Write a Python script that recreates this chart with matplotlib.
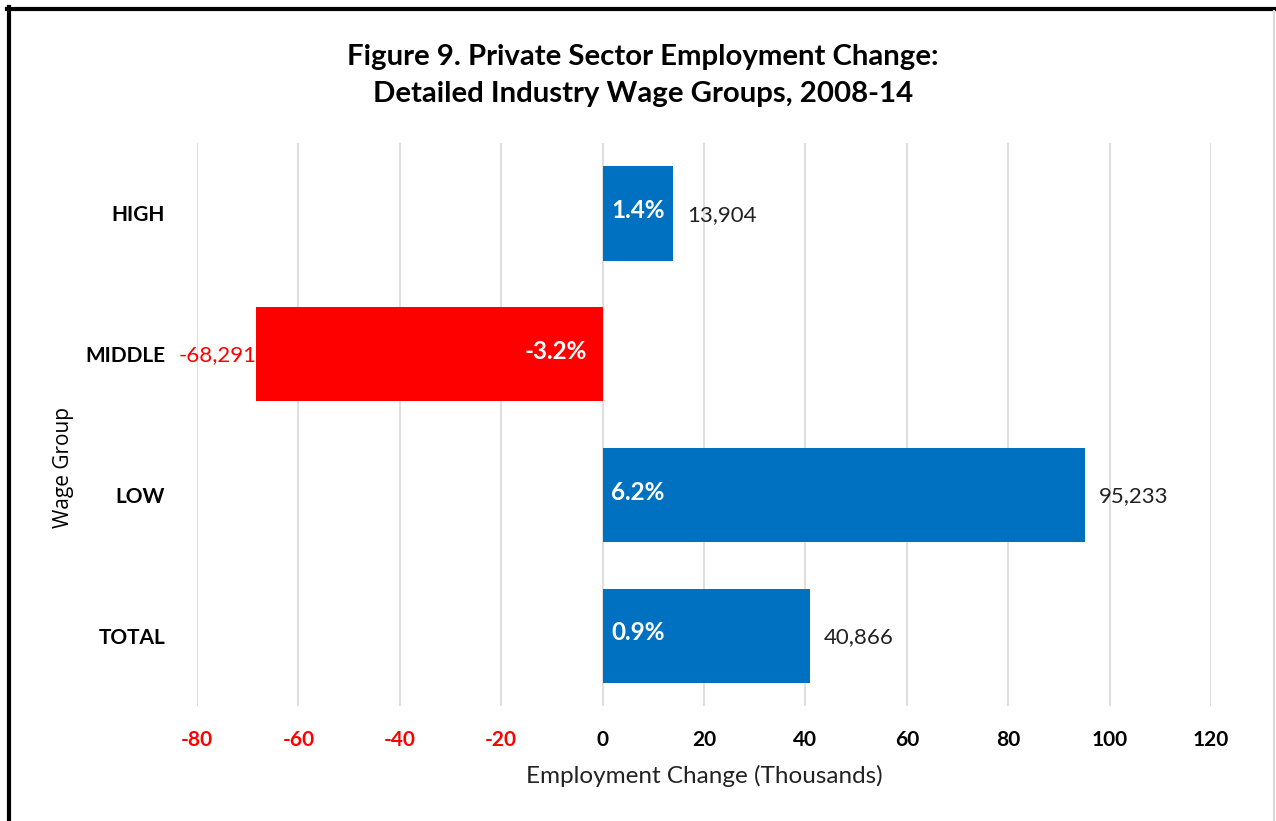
import matplotlib.pyplot as plt
from matplotlib.lines import Line2D

plt.rcParams['font.family'] = ['Lato', 'DejaVu Sans']

groups = ["HIGH", "MIDDLE", "LOW", "TOTAL"]
change = [13.904, -68.291, 95.233, 40.866]      # thousands
value_labels = ["13,904", "-68,291", "95,233", "40,866"]
pct_labels = ["1.4%", "-3.2%", "6.2%", "0.9%"]
xticks = [-80, -60, -40, -20, 0, 20, 40, 60, 80, 100, 120]

BLUE = "#0070C0"
RED = "#FF0000"

fig = plt.figure(figsize=(12.76, 8.21), dpi=100)
ax = fig.add_axes([0.1544, 0.140, 0.7946, 0.6858])

ypos = list(range(len(groups)))
colors = [RED if v < 0 else BLUE for v in change]
bars = ax.barh(ypos, change, height=0.67, color=colors, zorder=3)

for y, v, lab, pct in zip(ypos, change, value_labels, pct_labels):
    if v >= 0:
        ax.annotate(pct, (0, y), xytext=(6, 2), textcoords="offset points",
                    ha="left", va="center", color="white", fontsize=17.5, fontweight="bold", zorder=4)
        ax.annotate(lab, (v, y), xytext=(10, -1), textcoords="offset points",
                    ha="left", va="center", color="#222222", fontsize=16, zorder=4)
    else:
        ax.annotate(pct, (0, y), xytext=(-11, 2), textcoords="offset points",
                    ha="right", va="center", color="white", fontsize=17.5, fontweight="bold", zorder=4)
        ax.annotate(lab, (v, y), xytext=(0, -1), textcoords="offset points",
                    ha="right", va="center", color=RED, fontsize=16, zorder=4)

ax.set_xlim(-80, 120)
ax.set_ylim(len(groups) - 0.5, -0.5)
ax.set_xticks(xticks)
ax.set_xticklabels([str(t) for t in xticks], fontsize=15, fontweight="bold")
for t, lbl in zip(xticks, ax.get_xticklabels()):
    lbl.set_color(RED if t < 0 else "black")
ax.set_yticks(ypos)
ax.set_yticklabels(groups, fontsize=15, fontweight="bold")
ax.tick_params(axis="x", length=0, pad=17)
ax.tick_params(axis="y", length=0, pad=23)
ax.grid(axis="x", color="#D9D9D9", linewidth=1.2, zorder=0)
for s in ax.spines.values():
    s.set_visible(False)

ax.set_xlabel("Employment Change (Thousands)", fontsize=17.5, labelpad=11, color="#222222")
fig.text(0.050, 0.431, "Wage Group", rotation=90, ha="center", va="center",
         fontsize=15, family=["Open Sans", "DejaVu Sans"])

fig.text(0.504, 0.930, "Figure 9. Private Sector Employment Change:", ha="center", va="center",
         fontsize=21.2, fontweight="bold")
fig.text(0.504, 0.885, "Detailed Industry Wage Groups, 2008-14", ha="center", va="center",
         fontsize=21.2, fontweight="bold")

# chart frame
fig.add_artist(Line2D([7 / 1276, 1], [1 - 9 / 821, 1 - 9 / 821], color="black", linewidth=3))
fig.add_artist(Line2D([9 / 1276, 9 / 1276], [0, 1 - 7 / 821], color="black", linewidth=3))
fig.add_artist(Line2D([1274 / 1276, 1274 / 1276], [0, 1 - 11 / 821], color="#D9D9D9", linewidth=1.5))

fig.savefig("out.png", dpi=100)
